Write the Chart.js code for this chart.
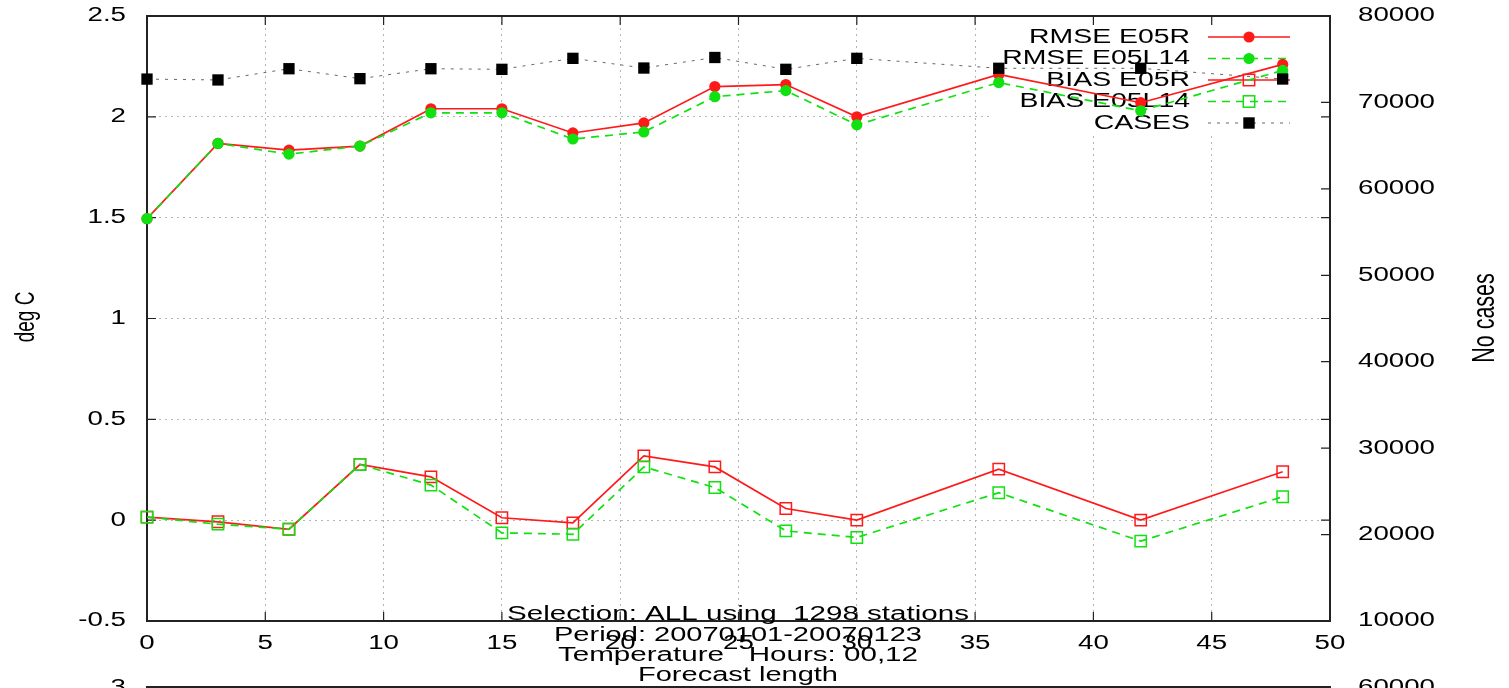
<!DOCTYPE html>
<html lang="en">
<head>
<meta charset="UTF-8">
<title>RMSE / BIAS by forecast length</title>
<script src="https://cdn.jsdelivr.net/npm/chart.js"></script>
<style>
    html, body { margin: 0; padding: 0; background: #fff; }
    #wrap { width: 1509px; height: 688px; position: relative; }
</style>
</head>
<body>
<div id="wrap"><canvas id="verifChart"></canvas></div>

<script>
// forecast length (hours)
const forecastHours = [0, 3, 6, 9, 12, 15, 18, 21, 24, 27, 30, 36, 42, 48];

// deg C
const rmseE05R   = [1.495, 1.868, 1.835, 1.855, 2.04, 2.04, 1.92, 1.97, 2.15, 2.16, 2.00, 2.21, 2.07, 2.26];
const rmseE05L14 = [1.495, 1.868, 1.815, 1.855, 2.02, 2.02, 1.89, 1.925, 2.10, 2.13, 1.96, 2.17, 2.03, 2.23];
const biasE05R   = [0.015, -0.008, -0.045, 0.276, 0.215, 0.012, -0.013, 0.319, 0.264, 0.058, 0.0, 0.253, 0.0, 0.24];
const biasE05L14 = [0.015, -0.02, -0.045, 0.276, 0.174, -0.063, -0.07, 0.264, 0.162, -0.053, -0.086, 0.136, -0.104, 0.116];

// number of cases (right axis)
const cases = [72700, 72600, 73900, 72750, 73900, 73830, 75100, 73980, 75200, 73830, 75100, 73950, 73950, 72710];

// tick labels
const xTicks  = [0, 5, 10, 15, 20, 25, 30, 35, 40, 45, 50];
const yTicks  = [-0.5, 0, 0.5, 1, 1.5, 2, 2.5];
const y2Ticks = [10000, 20000, 30000, 40000, 50000, 60000, 70000, 80000];

const titleLines = [
    "Selection: ALL using  1298 stations",
    "Period: 20070101-20070123",
    "Temperature   Hours: 00,12",
    "Forecast length"
];

const FONT = '"Liberation Sans", Arial, sans-serif';
const STRETCH = 1.42;   // the original picture is stretched sideways
const RED = "#ff1a1a";
const GREEN = "#11e011";

function toPoints(values) {
    return forecastHours.map((h, i) => ({ x: h, y: values[i] }));
}

// text helper: wide glyphs like the reference
function putText(ctx, text, x, y, o) {
    o = o || {};
    const size = o.size || 19.5;
    ctx.save();
    ctx.font = size + "px " + FONT;
    ctx.fillStyle = "#000";
    ctx.textBaseline = o.baseline || "middle";
    ctx.textAlign = o.align || "left";
    const w = ctx.measureText(text).width;
    const sx = o.width ? o.width / w : STRETCH;
    ctx.translate(x, y);
    ctx.scale(sx, 1);
    if (o.rotate) {
        ctx.rotate(-Math.PI / 2);
        ctx.textAlign = "center";
    }
    ctx.fillText(text, 0, 0);
    ctx.restore();
}

const series = [
    { label: "RMSE E05R",   data: rmseE05R,   color: RED,   dash: [],     style: "circle", fill: true,  axis: "y",  order: 5 },
    { label: "RMSE E05L14", data: rmseE05L14, color: GREEN, dash: [8, 6], style: "circle", fill: true,  axis: "y",  order: 4 },
    { label: "BIAS E05R",   data: biasE05R,   color: RED,   dash: [],     style: "rect",   fill: false, axis: "y",  order: 3 },
    { label: "BIAS E05L14", data: biasE05L14, color: GREEN, dash: [8, 6], style: "rect",   fill: false, axis: "y",  order: 2 },
    { label: "CASES",       data: cases,      color: "#000", dash: [3, 6], style: "rect",  fill: true,  axis: "y2", order: 1 }
];

const datasets = series.map(s => ({
    label: s.label,
    data: toPoints(s.data),
    yAxisID: s.axis,
    order: s.order,
    borderColor: s.label === "CASES" ? "#666" : s.color,
    borderWidth: s.label === "CASES" ? 1 : 1.7,
    borderDash: s.dash,
    pointStyle: s.style,
    pointRadius: s.style === "circle" ? 5.6 : 8,
    pointBackgroundColor: s.fill ? s.color : "rgba(0,0,0,0)",
    pointBorderColor: s.color,
    pointBorderWidth: s.fill ? 0 : 1.5,
    tension: 0,
    clip: false
}));

const frame = {
    id: "gnuplotFrame",
    beforeDatasetsDraw(chart) {
        const ctx = chart.ctx;
        const a = chart.chartArea;
        const sx = chart.scales.x, sy = chart.scales.y, sy2 = chart.scales.y2;

        // key box hides the grid behind it
        ctx.save();
        ctx.fillStyle = "#fff";
        ctx.fillRect(990, a.top + 1, a.right - 991, 117);

        // border
        ctx.strokeStyle = "#222";
        ctx.lineWidth = 2;
        ctx.strokeRect(a.left, a.top, a.right - a.left, a.bottom - a.top);

        // inward ticks
        ctx.lineWidth = 1.2;
        ctx.beginPath();
        xTicks.forEach(v => {
            const px = sx.getPixelForValue(v);
            ctx.moveTo(px, a.bottom); ctx.lineTo(px, a.bottom - 9);
            ctx.moveTo(px, a.top);    ctx.lineTo(px, a.top + 9);
        });
        yTicks.forEach(v => {
            const py = sy.getPixelForValue(v);
            ctx.moveTo(a.left, py);  ctx.lineTo(a.left + 9, py);
            ctx.moveTo(a.right, py); ctx.lineTo(a.right - 9, py);
        });
        y2Ticks.forEach(v => {
            const py = sy2.getPixelForValue(v);
            ctx.moveTo(a.right, py); ctx.lineTo(a.right - 9, py);
        });
        ctx.stroke();
        ctx.restore();

        // key
        const rowY = [37, 58.5, 80, 101.5, 123];
        series.forEach((s, i) => {
            const y = rowY[i];
            putText(ctx, s.label, 1190, y, { align: "right", size: 20 });
            ctx.save();
            ctx.strokeStyle = s.label === "CASES" ? "#666" : s.color;
            ctx.lineWidth = s.label === "CASES" ? 1 : 1.7;
            ctx.setLineDash(s.dash);
            ctx.beginPath();
            ctx.moveTo(1208, y); ctx.lineTo(1290, y);
            ctx.stroke();
            ctx.setLineDash([]);
            if (s.style === "circle") {
                ctx.fillStyle = s.color;
                ctx.beginPath();
                ctx.arc(1249, y, 5.6, 0, Math.PI * 2);
                ctx.fill();
            } else if (s.fill) {
                ctx.fillStyle = s.color;
                ctx.fillRect(1249 - 5.7, y - 5.7, 11.4, 11.4);
            } else {
                ctx.strokeStyle = s.color;
                ctx.lineWidth = 1.5;
                ctx.strokeRect(1249 - 5.7, y - 5.7, 11.4, 11.4);
            }
            ctx.restore();
        });
    },
    afterDraw(chart) {
        const ctx = chart.ctx;
        const a = chart.chartArea;
        const sx = chart.scales.x, sy = chart.scales.y, sy2 = chart.scales.y2;

        xTicks.forEach(v => putText(ctx, String(v), sx.getPixelForValue(v), a.bottom + 23, { align: "center" }));
        yTicks.forEach(v => putText(ctx, String(v), a.left - 21, sy.getPixelForValue(v), { align: "right" }));
        y2Ticks.forEach(v => putText(ctx, String(v), a.right + 28, sy2.getPixelForValue(v), { align: "left" }));

        putText(ctx, "deg C", 27, 317, { rotate: true, size: 19 });
        putText(ctx, "No cases", 1486, 318, { rotate: true, size: 21.5 });

        // titles under the plot
        const widths = [462, 368, 360, 200];
        const base = [620, 641, 661, 681];
        titleLines.forEach((t, i) => {
            putText(ctx, t, 738, base[i], { align: "center", baseline: "alphabetic", width: widths[i], size: 20 });
        });

        // top of the next panel, cut off by the picture edge
        ctx.save();
        ctx.fillStyle = "#222";
        ctx.fillRect(a.left - 1, 686, a.right - a.left + 2, 2);
        ctx.restore();
        putText(ctx, "3", a.left - 21, 688, { align: "right" });
        putText(ctx, "60000", a.right + 28, 688, { align: "left" });
    }
};

const gridDots = { dash: [2, 4], display: false };

new Chart(document.getElementById("verifChart"), {
    type: "line",
    data: { datasets: datasets },
    options: {
        responsive: true,
        maintainAspectRatio: false,
        animation: false,
        layout: { padding: { left: 147, right: 179, top: 16, bottom: 67 } },
        plugins: { legend: { display: false }, tooltip: { enabled: false } },
        scales: {
            x: {
                type: "linear", min: 0, max: 50,
                ticks: { display: false, stepSize: 5 },
                grid: { color: "#b4b4b4", lineWidth: 1, drawTicks: false },
                border: gridDots,
                afterFit(s) { s.height = 0; }
            },
            y: {
                type: "linear", position: "left", min: -0.5, max: 2.5,
                ticks: { display: false, stepSize: 0.5 },
                grid: { color: "#b4b4b4", lineWidth: 1, drawTicks: false },
                border: gridDots,
                afterFit(s) { s.width = 0; }
            },
            y2: {
                type: "linear", position: "right", min: 10000, max: 80000,
                ticks: { display: false, stepSize: 10000 },
                grid: { display: false, drawTicks: false },
                border: { display: false },
                afterFit(s) { s.width = 0; }
            }
        }
    },
    plugins: [frame]
});
</script>
</body>
</html>
